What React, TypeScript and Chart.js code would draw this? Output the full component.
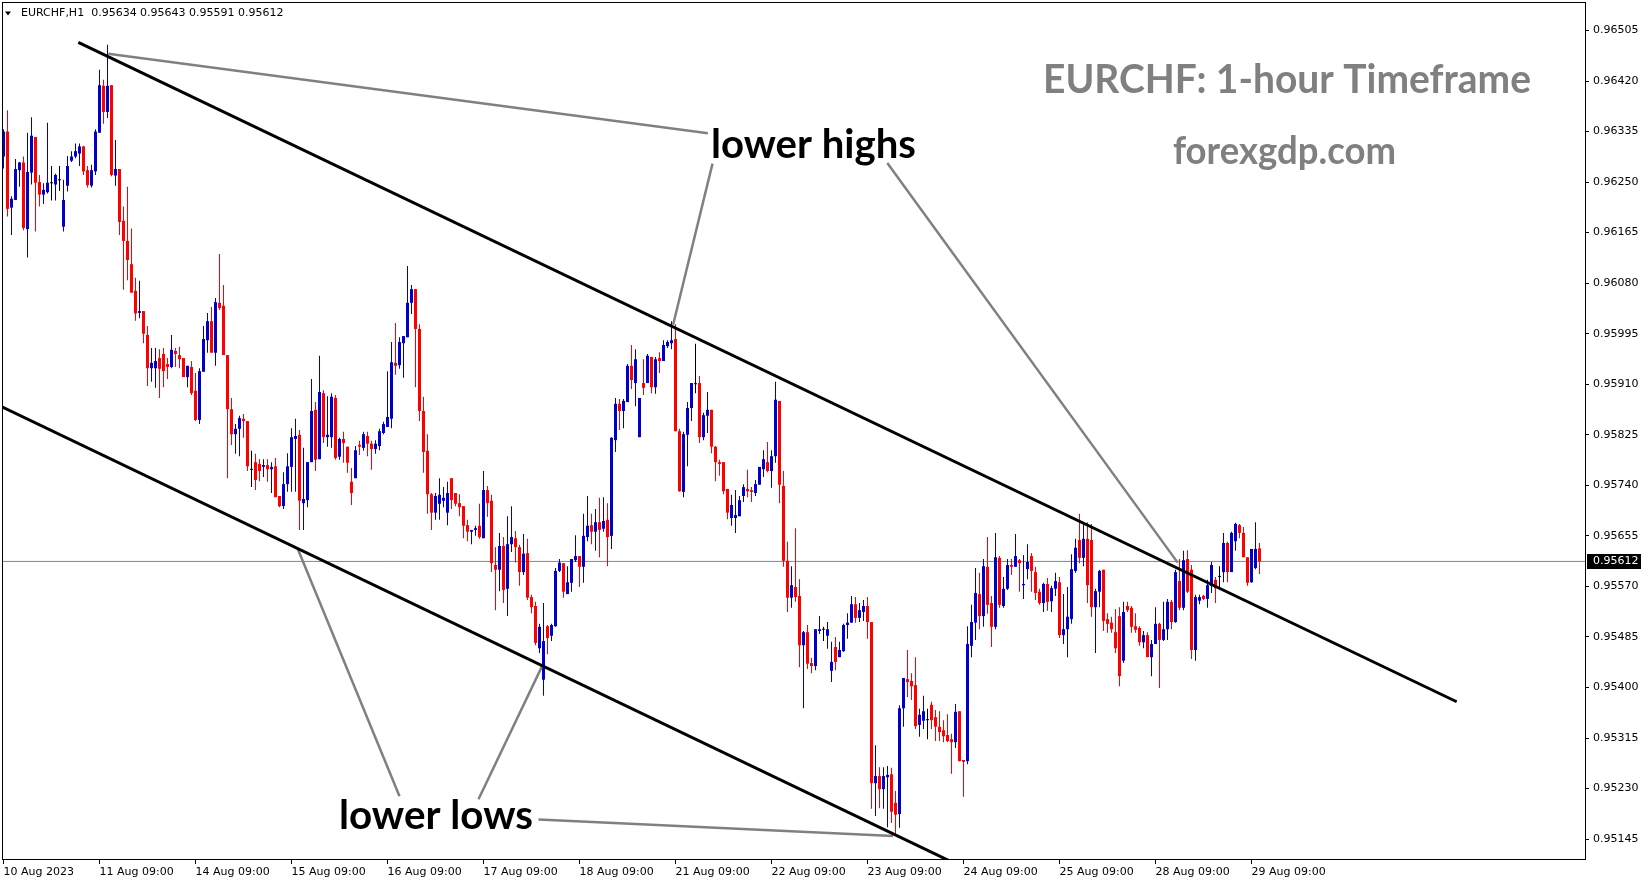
import React, { useEffect, useRef } from "react";
import { Chart, registerables } from "chart.js";

Chart.register(...registerables);

// ---------- data ----------
const symbolHeader = "EURCHF,H1  0.95634 0.95643 0.95591 0.95612";

const xTickIndices = [0, 24, 48, 72, 96, 120, 144, 168, 192, 216, 240, 264, 288, 312];
const xTickLabels = [
  "10 Aug 2023", "11 Aug 09:00", "14 Aug 09:00", "15 Aug 09:00", "16 Aug 09:00",
  "17 Aug 09:00", "18 Aug 09:00", "21 Aug 09:00", "22 Aug 09:00", "23 Aug 09:00",
  "24 Aug 09:00", "25 Aug 09:00", "28 Aug 09:00", "29 Aug 09:00",
];
const yTickValues = [
  0.95145, 0.9523, 0.95315, 0.954, 0.95485, 0.9557, 0.95655, 0.9574, 0.95825,
  0.9591, 0.95995, 0.9608, 0.96165, 0.9625, 0.96335, 0.9642, 0.96505,
];

const opens = [
  0.96293, 0.96335, 0.96207, 0.96220, 0.96270, 0.96283, 0.96171, 0.96266, 0.96326, 0.96250,
  0.96229, 0.96233, 0.96248, 0.96246, 0.96253, 0.96175, 0.96244, 0.96286, 0.96293, 0.96298,
  0.96310, 0.96270, 0.96244, 0.96268, 0.96333, 0.96412, 0.96368, 0.96413, 0.96261, 0.96272,
  0.96185, 0.96151, 0.96112, 0.96067, 0.96030, 0.96033, 0.95993, 0.95937, 0.95937, 0.95954,
  0.95961, 0.95944, 0.95939, 0.95966, 0.95959, 0.95954, 0.95922, 0.95939, 0.95899, 0.95850,
  0.95931, 0.95984, 0.96016, 0.95963, 0.96047, 0.96042, 0.95959, 0.95868, 0.95826, 0.95835,
  0.95852, 0.95848, 0.95766, 0.95779, 0.95776, 0.95771, 0.95774, 0.95767, 0.95772, 0.95722,
  0.95705, 0.95742, 0.95771, 0.95818, 0.95825, 0.95710, 0.95715, 0.95779, 0.95867, 0.95784,
  0.95895, 0.95821, 0.95821, 0.95887, 0.95788, 0.95818, 0.95805, 0.95746, 0.95752, 0.95808,
  0.95803, 0.95823, 0.95810, 0.95801, 0.95806, 0.95828, 0.95838, 0.95852, 0.95946, 0.95942,
  0.95979, 0.95989, 0.96047, 0.96070, 0.96003, 0.95865, 0.95798, 0.95725, 0.95694, 0.95709,
  0.95714, 0.95694, 0.95752, 0.95727, 0.95710, 0.95705, 0.95673, 0.95662, 0.95665, 0.95672,
  0.95651, 0.95732, 0.95714, 0.95606, 0.95598, 0.95638, 0.95566, 0.95641, 0.95651, 0.95636,
  0.95594, 0.95626, 0.95552, 0.95537, 0.95466, 0.95413, 0.95503, 0.95487, 0.95503, 0.95596,
  0.95609, 0.95557, 0.95576, 0.95614, 0.95621, 0.95603, 0.95653, 0.95673, 0.95662, 0.95678,
  0.95667, 0.95682, 0.95655, 0.95816, 0.95877, 0.95865, 0.95880, 0.95941, 0.95912, 0.95821,
  0.95912, 0.95912, 0.95956, 0.95905, 0.95954, 0.95949, 0.95974, 0.95979, 0.95986, 0.95831,
  0.95729, 0.95825, 0.95870, 0.95910, 0.95912, 0.95821, 0.95857, 0.95867, 0.95805, 0.95779,
  0.95779, 0.95734, 0.95685, 0.95685, 0.95688, 0.95722, 0.95734, 0.95732, 0.95727, 0.95741,
  0.95767, 0.95779, 0.95764, 0.95789, 0.95882, 0.95739, 0.95613, 0.95551, 0.95569, 0.95554,
  0.95471, 0.95493, 0.95441, 0.95436, 0.95495, 0.95497, 0.95487, 0.95428, 0.95468, 0.95451,
  0.95461, 0.95505, 0.95509, 0.95540, 0.95517, 0.95527, 0.95537, 0.95510, 0.95239, 0.95251,
  0.95229, 0.95249, 0.95254, 0.95206, 0.95187, 0.95365, 0.95414, 0.95411, 0.95404, 0.95337,
  0.95344, 0.95345, 0.95371, 0.95350, 0.95334, 0.95328, 0.95320, 0.95313, 0.95308, 0.95360,
  0.95278, 0.95276, 0.95470, 0.95509, 0.95557, 0.95520, 0.95603, 0.95542, 0.95502, 0.95618,
  0.95537, 0.95566, 0.95606, 0.95603, 0.95614, 0.95572, 0.95599, 0.95621, 0.95594, 0.95561,
  0.95542, 0.95574, 0.95545, 0.95566, 0.95577, 0.95488, 0.95498, 0.95515, 0.95596, 0.95648,
  0.95618, 0.95650, 0.95648, 0.95535, 0.95561, 0.95598, 0.95515, 0.95509, 0.95493, 0.95520,
  0.95445, 0.95537, 0.95534, 0.95503, 0.95500, 0.95476, 0.95488, 0.95451, 0.95473, 0.95507,
  0.95480, 0.95498, 0.95544, 0.95510, 0.95579, 0.95534, 0.95616, 0.95598, 0.95463, 0.95546,
  0.95554, 0.95549, 0.95571, 0.95581, 0.95586, 0.95594, 0.95643, 0.95594, 0.95646, 0.95673,
  0.95660, 0.95619, 0.95577, 0.95601, 0.95634,
];

const highs = [
  0.96339, 0.96371, 0.96226, 0.96289, 0.96284, 0.96293, 0.96333, 0.96359, 0.96326, 0.96262,
  0.96248, 0.96350, 0.96277, 0.96264, 0.96277, 0.96254, 0.96294, 0.96302, 0.96315, 0.96315,
  0.96311, 0.96277, 0.96279, 0.96339, 0.96439, 0.96422, 0.96481, 0.96413, 0.96321, 0.96272,
  0.96209, 0.96242, 0.96172, 0.96089, 0.96084, 0.96033, 0.96008, 0.95971, 0.95971, 0.95969,
  0.95971, 0.95954, 0.95993, 0.95971, 0.95973, 0.95954, 0.95941, 0.95949, 0.95929, 0.95937,
  0.96008, 0.96030, 0.96040, 0.96055, 0.96129, 0.96077, 0.95959, 0.95887, 0.95843, 0.95857,
  0.95860, 0.95848, 0.95798, 0.95793, 0.95784, 0.95784, 0.95784, 0.95779, 0.95786, 0.95722,
  0.95762, 0.95794, 0.95836, 0.95852, 0.95833, 0.95803, 0.95779, 0.95919, 0.95880, 0.95958,
  0.95900, 0.95890, 0.95895, 0.95892, 0.95820, 0.95830, 0.95805, 0.95769, 0.95806, 0.95815,
  0.95830, 0.95830, 0.95815, 0.95816, 0.95835, 0.95847, 0.95932, 0.95981, 0.96013, 0.95989,
  0.95991, 0.96109, 0.96077, 0.96070, 0.96011, 0.95889, 0.95826, 0.95727, 0.95727, 0.95752,
  0.95737, 0.95746, 0.95752, 0.95727, 0.95725, 0.95705, 0.95682, 0.95665, 0.95672, 0.95709,
  0.95764, 0.95739, 0.95724, 0.95636, 0.95660, 0.95653, 0.95688, 0.95705, 0.95663, 0.95640,
  0.95658, 0.95650, 0.95556, 0.95544, 0.95507, 0.95542, 0.95505, 0.95507, 0.95601, 0.95616,
  0.95609, 0.95604, 0.95616, 0.95656, 0.95621, 0.95692, 0.95722, 0.95692, 0.95700, 0.95719,
  0.95720, 0.95710, 0.95821, 0.95887, 0.95885, 0.95885, 0.95944, 0.95976, 0.95969, 0.95887,
  0.95952, 0.95961, 0.95956, 0.95956, 0.95964, 0.95984, 0.95984, 0.96016, 0.96011, 0.95835,
  0.95830, 0.95880, 0.95912, 0.95978, 0.95924, 0.95862, 0.95897, 0.95867, 0.95806, 0.95783,
  0.95779, 0.95734, 0.95724, 0.95732, 0.95722, 0.95742, 0.95766, 0.95737, 0.95749, 0.95771,
  0.95799, 0.95813, 0.95799, 0.95914, 0.95882, 0.95764, 0.95645, 0.95604, 0.95668, 0.95582,
  0.95495, 0.95505, 0.95450, 0.95498, 0.95520, 0.95502, 0.95510, 0.95477, 0.95485, 0.95477,
  0.95507, 0.95525, 0.95554, 0.95552, 0.95542, 0.95547, 0.95552, 0.95510, 0.95303, 0.95266,
  0.95266, 0.95268, 0.95265, 0.95226, 0.95370, 0.95416, 0.95463, 0.95424, 0.95451, 0.95364,
  0.95386, 0.95364, 0.95376, 0.95362, 0.95360, 0.95345, 0.95355, 0.95322, 0.95372, 0.95360,
  0.95278, 0.95503, 0.95539, 0.95601, 0.95593, 0.95616, 0.95653, 0.95554, 0.95660, 0.95621,
  0.95586, 0.95616, 0.95616, 0.95658, 0.95616, 0.95623, 0.95641, 0.95626, 0.95603, 0.95566,
  0.95576, 0.95584, 0.95571, 0.95593, 0.95586, 0.95557, 0.95569, 0.95624, 0.95650, 0.95692,
  0.95677, 0.95678, 0.95675, 0.95566, 0.95598, 0.95598, 0.95525, 0.95519, 0.95532, 0.95535,
  0.95544, 0.95544, 0.95537, 0.95525, 0.95503, 0.95495, 0.95493, 0.95480, 0.95535, 0.95509,
  0.95544, 0.95549, 0.95547, 0.95598, 0.95616, 0.95630, 0.95631, 0.95606, 0.95556, 0.95556,
  0.95556, 0.95581, 0.95611, 0.95586, 0.95604, 0.95660, 0.95645, 0.95662, 0.95677, 0.95675,
  0.95670, 0.95619, 0.95633, 0.95678, 0.95643,
];

const lows = [
  0.96273, 0.96192, 0.96161, 0.96220, 0.96242, 0.96169, 0.96123, 0.96246, 0.96167, 0.96209,
  0.96213, 0.96231, 0.96219, 0.96219, 0.96235, 0.96167, 0.96234, 0.96284, 0.96290, 0.96277,
  0.96262, 0.96241, 0.96241, 0.96262, 0.96333, 0.96348, 0.96358, 0.96260, 0.96244, 0.96161,
  0.96069, 0.96085, 0.96064, 0.96017, 0.96021, 0.95979, 0.95907, 0.95914, 0.95904, 0.95887,
  0.95905, 0.95919, 0.95937, 0.95939, 0.95937, 0.95922, 0.95905, 0.95892, 0.95848, 0.95843,
  0.95931, 0.95963, 0.95963, 0.95941, 0.96035, 0.95959, 0.95752, 0.95808, 0.95793, 0.95789,
  0.95820, 0.95764, 0.95737, 0.95732, 0.95747, 0.95754, 0.95746, 0.95727, 0.95720, 0.95703,
  0.95700, 0.95729, 0.95729, 0.95729, 0.95665, 0.95665, 0.95703, 0.95779, 0.95764, 0.95784,
  0.95811, 0.95805, 0.95803, 0.95783, 0.95783, 0.95778, 0.95761, 0.95707, 0.95752, 0.95791,
  0.95798, 0.95789, 0.95766, 0.95793, 0.95799, 0.95826, 0.95838, 0.95836, 0.95926, 0.95936,
  0.95921, 0.95989, 0.96028, 0.95905, 0.95848, 0.95761, 0.95692, 0.95665, 0.95682, 0.95682,
  0.95703, 0.95673, 0.95700, 0.95705, 0.95688, 0.95651, 0.95646, 0.95641, 0.95655, 0.95650,
  0.95651, 0.95687, 0.95594, 0.95530, 0.95562, 0.95542, 0.95520, 0.95628, 0.95610, 0.95571,
  0.95589, 0.95547, 0.95525, 0.95471, 0.95458, 0.95386, 0.95456, 0.95478, 0.95502, 0.95594,
  0.95551, 0.95557, 0.95561, 0.95611, 0.95569, 0.95576, 0.95646, 0.95641, 0.95630, 0.95619,
  0.95662, 0.95604, 0.95633, 0.95796, 0.95833, 0.95836, 0.95880, 0.95902, 0.95873, 0.95821,
  0.95892, 0.95912, 0.95895, 0.95894, 0.95929, 0.95949, 0.95971, 0.95969, 0.95831, 0.95729,
  0.95720, 0.95772, 0.95848, 0.95895, 0.95811, 0.95816, 0.95828, 0.95794, 0.95747, 0.95756,
  0.95725, 0.95683, 0.95672, 0.95660, 0.95688, 0.95712, 0.95720, 0.95712, 0.95722, 0.95741,
  0.95754, 0.95762, 0.95736, 0.95778, 0.95710, 0.95603, 0.95527, 0.95534, 0.95544, 0.95434,
  0.95365, 0.95431, 0.95424, 0.95429, 0.95490, 0.95478, 0.95465, 0.95409, 0.95429, 0.95451,
  0.95460, 0.95482, 0.95509, 0.95509, 0.95510, 0.95512, 0.95482, 0.95196, 0.95184, 0.95197,
  0.95196, 0.95165, 0.95172, 0.95154, 0.95164, 0.95334, 0.95384, 0.95379, 0.95330, 0.95317,
  0.95330, 0.95313, 0.95330, 0.95310, 0.95310, 0.95308, 0.95308, 0.95255, 0.95298, 0.95276,
  0.95216, 0.95271, 0.95451, 0.95480, 0.95498, 0.95502, 0.95524, 0.95468, 0.95498, 0.95534,
  0.95534, 0.95564, 0.95589, 0.95603, 0.95561, 0.95549, 0.95582, 0.95561, 0.95547, 0.95539,
  0.95527, 0.95529, 0.95527, 0.95554, 0.95483, 0.95473, 0.95451, 0.95507, 0.95593, 0.95609,
  0.95604, 0.95542, 0.95519, 0.95458, 0.95535, 0.95495, 0.95492, 0.95492, 0.95458, 0.95402,
  0.95441, 0.95527, 0.95492, 0.95492, 0.95470, 0.95466, 0.95451, 0.95419, 0.95473, 0.95399,
  0.95478, 0.95480, 0.95498, 0.95509, 0.95530, 0.95530, 0.95559, 0.95448, 0.95445, 0.95540,
  0.95547, 0.95534, 0.95559, 0.95542, 0.95569, 0.95577, 0.95577, 0.95594, 0.95630, 0.95651,
  0.95619, 0.95571, 0.95576, 0.95599, 0.95591,
];

const closes = [
  0.96335, 0.96205, 0.96222, 0.96272, 0.96283, 0.96173, 0.96267, 0.96328, 0.96249, 0.96229,
  0.96237, 0.96249, 0.96248, 0.96262, 0.96253, 0.96220, 0.96277, 0.96293, 0.96302, 0.96310,
  0.96268, 0.96245, 0.96270, 0.96335, 0.96413, 0.96368, 0.96412, 0.96262, 0.96272, 0.96183,
  0.96151, 0.96119, 0.96064, 0.96029, 0.96033, 0.95995, 0.95937, 0.95946, 0.95949, 0.95936,
  0.95932, 0.95939, 0.95968, 0.95961, 0.95952, 0.95922, 0.95941, 0.95895, 0.95850, 0.95932,
  0.95986, 0.96016, 0.95963, 0.96048, 0.96038, 0.95959, 0.95868, 0.95826, 0.95835, 0.95853,
  0.95848, 0.95772, 0.95766, 0.95749, 0.95764, 0.95774, 0.95767, 0.95771, 0.95720, 0.95705,
  0.95742, 0.95772, 0.95821, 0.95823, 0.95714, 0.95717, 0.95779, 0.95865, 0.95783, 0.95897,
  0.95821, 0.95825, 0.95889, 0.95786, 0.95818, 0.95811, 0.95778, 0.95727, 0.95799, 0.95805,
  0.95826, 0.95810, 0.95801, 0.95810, 0.95831, 0.95843, 0.95855, 0.95947, 0.95941, 0.95981,
  0.95991, 0.96047, 0.96070, 0.96003, 0.95865, 0.95796, 0.95725, 0.95694, 0.95722, 0.95724,
  0.95719, 0.95727, 0.95715, 0.95709, 0.95703, 0.95672, 0.95662, 0.95665, 0.95668, 0.95653,
  0.95732, 0.95710, 0.95609, 0.95598, 0.95638, 0.95564, 0.95641, 0.95653, 0.95636, 0.95594,
  0.95625, 0.95551, 0.95535, 0.95475, 0.95502, 0.95478, 0.95483, 0.95505, 0.95596, 0.95610,
  0.95561, 0.95577, 0.95616, 0.95621, 0.95603, 0.95655, 0.95672, 0.95662, 0.95678, 0.95665,
  0.95680, 0.95653, 0.95820, 0.95877, 0.95865, 0.95882, 0.95941, 0.95917, 0.95952, 0.95887,
  0.95904, 0.95958, 0.95905, 0.95952, 0.95949, 0.95976, 0.95981, 0.95984, 0.95831, 0.95730,
  0.95826, 0.95870, 0.95912, 0.95910, 0.95821, 0.95858, 0.95867, 0.95805, 0.95779, 0.95776,
  0.95730, 0.95694, 0.95707, 0.95690, 0.95715, 0.95737, 0.95730, 0.95729, 0.95742, 0.95771,
  0.95784, 0.95764, 0.95789, 0.95884, 0.95741, 0.95613, 0.95551, 0.95572, 0.95552, 0.95471,
  0.95493, 0.95440, 0.95436, 0.95498, 0.95498, 0.95497, 0.95498, 0.95443, 0.95443, 0.95463,
  0.95505, 0.95509, 0.95540, 0.95517, 0.95530, 0.95537, 0.95510, 0.95239, 0.95251, 0.95229,
  0.95251, 0.95253, 0.95191, 0.95186, 0.95365, 0.95416, 0.95409, 0.95402, 0.95335, 0.95354,
  0.95360, 0.95345, 0.95345, 0.95334, 0.95325, 0.95318, 0.95310, 0.95308, 0.95359, 0.95276,
  0.95275, 0.95473, 0.95510, 0.95559, 0.95520, 0.95604, 0.95539, 0.95502, 0.95619, 0.95539,
  0.95566, 0.95606, 0.95603, 0.95621, 0.95609, 0.95574, 0.95611, 0.95596, 0.95559, 0.95542,
  0.95574, 0.95544, 0.95567, 0.95579, 0.95488, 0.95498, 0.95519, 0.95599, 0.95635, 0.95618,
  0.95650, 0.95572, 0.95535, 0.95562, 0.95596, 0.95512, 0.95507, 0.95498, 0.95466, 0.95419,
  0.95527, 0.95530, 0.95502, 0.95497, 0.95476, 0.95488, 0.95451, 0.95473, 0.95507, 0.95480,
  0.95498, 0.95544, 0.95510, 0.95594, 0.95534, 0.95614, 0.95561, 0.95463, 0.95552, 0.95552,
  0.95549, 0.95572, 0.95606, 0.95567, 0.95586, 0.95643, 0.95594, 0.95660, 0.95675, 0.95660,
  0.95619, 0.95576, 0.95633, 0.95633, 0.95612,
];

// trend lines / annotation lines (bar index, price)
const upperChannel = [
  { x: 18.7, y: 0.96485 },
  { x: 363.3, y: 0.95376 },
];
const lowerChannel = [
  { x: -1, y: 0.95874 },
  { x: 245, y: 0.95081 },
];
const pointerLines = [
  [{ x: 26.2, y: 0.96466 }, { x: 176.1, y: 0.96332 }],
  [{ x: 177.25, y: 0.96281 }, { x: 167.4, y: 0.9601 }],
  [{ x: 220.95, y: 0.96282 }, { x: 293.55, y: 0.9561 }],
  [{ x: 73.5, y: 0.95634 }, { x: 99.0, y: 0.95217 }],
  [{ x: 134.8, y: 0.95438 }, { x: 118.75, y: 0.95212 }],
  [{ x: 133.75, y: 0.95178 }, { x: 222.4, y: 0.9515 }],
];
const lastPrice = 0.95612;

// ---------- styling ----------
const BULL = "#0000cd";
const BEAR = "#ff0000";
const DOJI = "#000000";
const AXIS_FONT = "DejaVu Sans";
const TEXT_FONT = "Lato";

function fitText(
  ctx: CanvasRenderingContext2D,
  text: string,
  left: number,
  baseline: number,
  width: number,
  size: number,
  color: string
) {
  ctx.save();
  ctx.font = `bold ${size}px ${TEXT_FONT}`;
  const w = ctx.measureText(text).width;
  ctx.translate(left, baseline);
  ctx.scale(width / w, 1);
  ctx.fillStyle = color;
  ctx.textAlign = "left";
  ctx.textBaseline = "alphabetic";
  ctx.fillText(text, 0, 0);
  ctx.restore();
}

const overlayPlugin = {
  id: "overlay",
  afterDraw(chart: any) {
    const { ctx, chartArea, scales } = chart;
    ctx.save();
    // frame
    ctx.strokeStyle = "#000";
    ctx.lineWidth = 1;
    ctx.strokeRect(chartArea.left + 0.5, chartArea.top + 0.5, chartArea.right - chartArea.left, chartArea.bottom - chartArea.top);

    // header
    ctx.fillStyle = "#000";
    ctx.beginPath();
    ctx.moveTo(5, 11.5);
    ctx.lineTo(11, 11.5);
    ctx.lineTo(8, 15.5);
    ctx.closePath();
    ctx.fill();
    ctx.font = `11px ${AXIS_FONT}`;
    ctx.textBaseline = "middle";
    ctx.textAlign = "left";
    ctx.fillText(symbolHeader, 21, 13.5);

    // current price label
    const py = Math.round(scales.y.getPixelForValue(lastPrice));
    ctx.fillStyle = "#000";
    ctx.fillRect(chartArea.right + 2, py - 7, 54, 15);
    ctx.fillStyle = "#fff";
    ctx.font = `11px ${AXIS_FONT}`;
    ctx.fillText(lastPrice.toFixed(5), chartArea.right + 8, py + 0.5);

    // texts
    fitText(ctx, "EURCHF: 1-hour Timeframe", 1043, 92.5, 488, 41, "#808080");
    fitText(ctx, "forexgdp.com", 1173, 163.5, 223, 39, "#808080");
    fitText(ctx, "lower highs", 711, 157.5, 205, 40, "#000");
    fitText(ctx, "lower lows", 339, 829, 194, 40, "#000");
    ctx.restore();
  },
};

export default function App() {
  const ref = useRef<HTMLCanvasElement>(null);

  useEffect(() => {
    document.body.style.margin = "0";
    document.body.style.overflow = "hidden";
    const canvas = ref.current;
    if (!canvas) return;

    const colorOf = (i: number) =>
      closes[i] > opens[i] ? BULL : closes[i] < opens[i] ? BEAR : DOJI;
    const colors = opens.map((_, i) => colorOf(i));
    const bodies = opens.map((o, i) => ({ x: i, y: [o, closes[i]] }));
    const wicks = lows.map((l, i) => ({ x: i, y: [l, highs[i]] }));

    const lineDs = (pts: any[], color: string, width: number, order: number) => ({
      type: "line" as const,
      data: pts,
      borderColor: color,
      borderWidth: width,
      pointRadius: 0,
      tension: 0,
      fill: false,
      clip: 0,
      order,
    });

    const chart = new Chart(canvas, {
      type: "bar",
      data: {
        datasets: [
          lineDs(upperChannel, "#000", 3, 0),
          lineDs(lowerChannel, "#000", 3, 0),
          ...pointerLines.map((p) => lineDs(p, "#808080", 2.5, 0)),
          {
            type: "bar",
            data: bodies as any,
            backgroundColor: colors,
            borderWidth: 0,
            barThickness: 3,
            minBarLength: 1,
            grouped: false,
            inflateAmount: 0,
            order: 1,
          } as any,
          {
            type: "bar",
            data: wicks as any,
            backgroundColor: colors,
            borderWidth: 0,
            barThickness: 1,
            grouped: false,
            inflateAmount: 0,
            order: 2,
          } as any,
          lineDs(
            [
              { x: -2, y: lastPrice },
              { x: 400, y: lastPrice },
            ],
            "#778899",
            1,
            3
          ),
        ],
      },
      options: {
        animation: false,
        responsive: false,
        devicePixelRatio: 1,
        layout: { padding: { left: 2, top: 2, right: 0, bottom: 0 } },
        plugins: { legend: { display: false }, tooltip: { enabled: false }, title: { display: false } },
        scales: {
          x: {
            type: "linear",
            position: "bottom",
            min: -0.375,
            max: 395.375,
            offset: false,
            bounds: "data",
            afterBuildTicks: (s: any) => {
              s.ticks = xTickIndices.map((v) => ({ value: v }));
            },
            afterFit: (s: any) => {
              s.height = 25;
              s.paddingLeft = 0;
              s.paddingRight = 0;
              s.paddingTop = 0;
              s.paddingBottom = 0;
            },
            ticks: {
              autoSkip: false,
              maxRotation: 0,
              minRotation: 0,
              align: "start",
              padding: 2,
              color: "#000",
              font: { family: AXIS_FONT, size: 11 },
              callback: (v: any) => {
                const k = xTickIndices.indexOf(Number(v));
                return k >= 0 ? xTickLabels[k] : "";
              },
            },
            grid: { drawOnChartArea: false, drawTicks: true, tickLength: 5, color: "#000", offset: false },
            border: { display: true, color: "#000", width: 1 },
          },
          y: {
            type: "linear",
            position: "right",
            min: 0.951115,
            max: 0.965529,
            beginAtZero: false,
            bounds: "data",
            afterBuildTicks: (s: any) => {
              s.ticks = yTickValues.map((v) => ({ value: v }));
            },
            afterFit: (s: any) => {
              s.width = 64;
              s.paddingTop = 0;
              s.paddingBottom = 0;
              s.paddingLeft = 0;
              s.paddingRight = 0;
            },
            ticks: {
              autoSkip: false,
              padding: 4,
              crossAlign: "near",
              color: "#000",
              font: { family: AXIS_FONT, size: 11 },
              callback: (v: any) => Number(v).toFixed(5),
            },
            grid: { drawOnChartArea: false, drawTicks: true, tickLength: 4, color: "#000" },
            border: { display: true, color: "#000", width: 1 },
          },
        },
      } as any,
      plugins: [overlayPlugin],
    });

    return () => chart.destroy();
  }, []);

  return (
    <div style={{ width: 1649, height: 884, background: "#fff", overflow: "hidden" }}>
      <canvas ref={ref} width={1649} height={884} style={{ display: "block", width: 1649, height: 884 }} />
    </div>
  );
}
